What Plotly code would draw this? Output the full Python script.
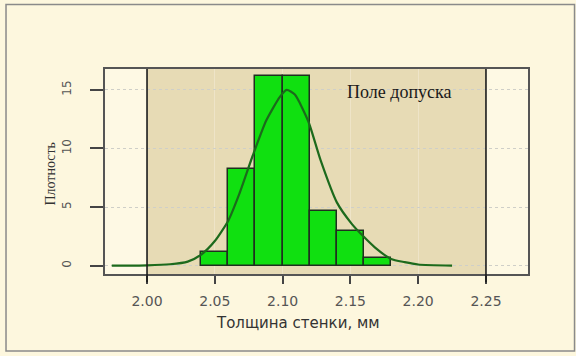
import plotly.graph_objects as go

# ---- data ----
bin_left = [2.04, 2.06, 2.08, 2.10, 2.12, 2.14, 2.16]
bin_width = 0.02
density = [1.2, 8.25, 16.2, 16.2, 4.65, 3.0, 0.62]

curve_x = [1.974, 2.000, 2.017, 2.030, 2.040, 2.050, 2.060, 2.068, 2.078, 2.088,
           2.098, 2.103, 2.109, 2.119, 2.128, 2.140, 2.151, 2.159, 2.168, 2.180,
           2.190, 2.200, 2.225]
curve_y = [0.0, 0.03, 0.12, 0.35, 0.95, 2.1, 3.86, 6.1, 9.4, 12.4,
           14.4, 15.0, 14.6, 12.3, 9.0, 5.4, 3.57, 2.57, 1.57, 0.57,
           0.3, 0.1, 0.0]

tol_low, tol_high = 2.00, 2.25
x_ticks = [2.00, 2.05, 2.10, 2.15, 2.20, 2.25]
x_ticklabels = ["2.00", "2.05", "2.10", "2.15", "2.20", "2.25"]
y_ticks = [0, 5, 10, 15]
y_ticklabels = ["0", "5", "10", "15"]

x_title = "Толщина стенки, мм"
y_title = "Плотность"
zone_label = "Поле допуска"

# ---- figure ----
centers = [b + bin_width / 2 for b in bin_left]

fig = go.Figure()
fig.add_trace(go.Bar(
    x=centers, y=density, width=[bin_width] * len(centers),
    marker=dict(color="#10E010", line=dict(color="#1f2f1f", width=1.5)),
    showlegend=False, hoverinfo="skip",
))
fig.add_trace(go.Scatter(
    x=curve_x, y=curve_y, mode="lines",
    line=dict(color="#1c6a1c", width=2.2, shape="spline", smoothing=0.6),
    showlegend=False, hoverinfo="skip",
))

BG = "#FDF7DE"
shapes = [
    # tolerance field
    dict(type="rect", xref="x", yref="paper", x0=tol_low, x1=tol_high, y0=0, y1=1,
         fillcolor="#E7DBB5", line=dict(width=0), layer="below"),
    dict(type="line", xref="x", yref="paper", x0=tol_low, x1=tol_low, y0=-0.04, y1=1,
         line=dict(color="#1a1a1a", width=1.6), layer="above"),
    dict(type="line", xref="x", yref="paper", x0=tol_high, x1=tol_high, y0=-0.04, y1=1,
         line=dict(color="#1a1a1a", width=1.6), layer="above"),
    # outer picture frame
    dict(type="rect", xref="paper", yref="paper", x0=-0.234, x1=1.11, y0=-0.375, y1=1.315,
         line=dict(color="#8a8a8a", width=1.5), fillcolor="rgba(0,0,0,0)", layer="above"),
]

fig.update_layout(
    width=576, height=356,
    margin=dict(l=105, r=48, t=69, b=82),
    paper_bgcolor=BG, plot_bgcolor="#FEF9E4",
    bargap=0, shapes=shapes,
    font=dict(family="DejaVu Sans", color="#444444"),
    annotations=[
        dict(text=zone_label, xref="x", yref="paper", x=2.186, y=0.945,
             showarrow=False, font=dict(family="Liberation Serif", size=18, color="#1a1a1a")),
        dict(text=x_title, xref="paper", yref="paper", x=0.456, y=-0.185, yanchor="top",
             showarrow=False, font=dict(family="DejaVu Sans", size=15, color="#333333")),
        dict(text=y_title, xref="paper", yref="paper", x=-0.15, y=0.49, textangle=-90,
             showarrow=False, font=dict(family="Liberation Serif", size=14, color="#333333")),
    ],
)
fig.update_xaxes(
    range=[1.969, 2.281], tickvals=x_ticks, ticktext=x_ticklabels,
    ticks="outside", ticklen=8, tickwidth=1.5, tickcolor="#444444",
    showline=True, mirror=True, linecolor="#555555", linewidth=1.5,
    showgrid=True, gridcolor="#EEE4C8", gridwidth=1,
    zeroline=False, tickfont=dict(size=14, color="#555555"), ticklabelstandoff=5,
)
fig.update_yaxes(
    range=[-0.71, 16.78], tickvals=y_ticks, ticktext=y_ticklabels, tickangle=-90,
    ticks="outside", ticklen=13, tickwidth=1.5, tickcolor="#444444",
    showline=True, mirror=True, linecolor="#555555", linewidth=1.5,
    showgrid=True, gridcolor="#CFCFC8", griddash="dot", gridwidth=1,
    zeroline=False, tickfont=dict(size=12, color="#555555"), ticklabelstandoff=14,
)

fig.write_html(
    "out.html",
    config={"displayModeBar": False},
    post_script="document.body.style.margin='0';document.body.style.background='" + BG + "';",
)
